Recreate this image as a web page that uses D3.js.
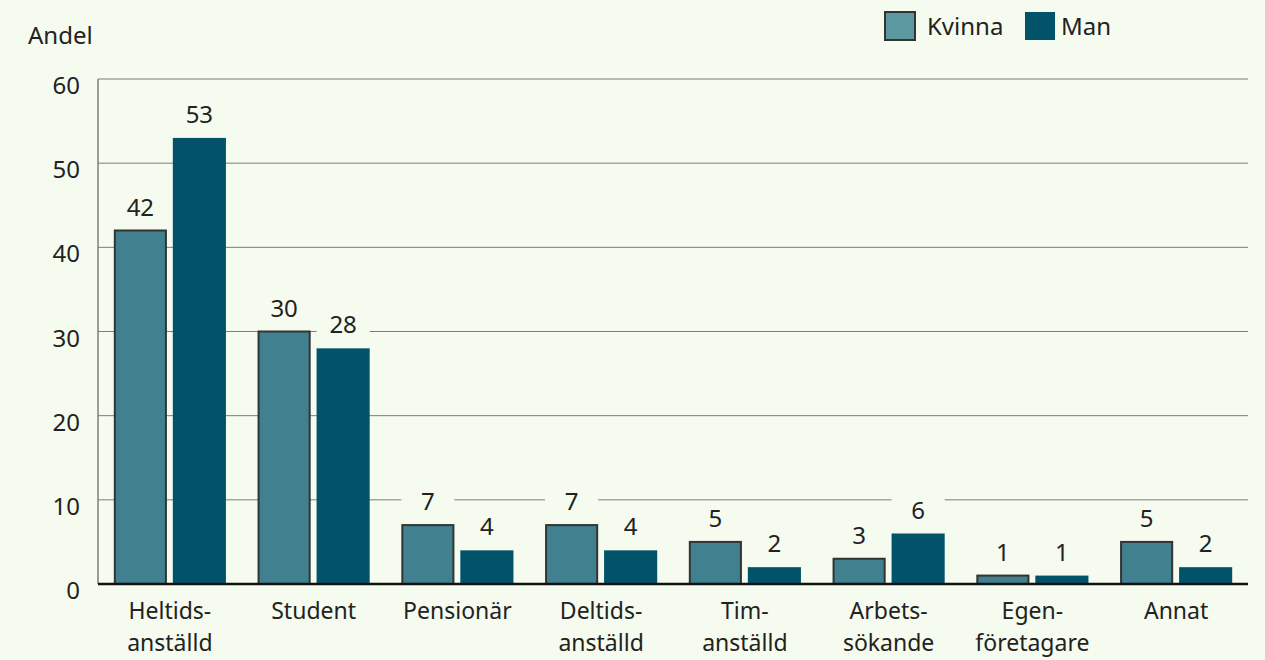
<!DOCTYPE html>
<html><head><meta charset="utf-8">
<script src="https://cdn.jsdelivr.net/npm/d3@7"></script>
<style>body{margin:0;background:#f5fbee;}svg{display:block;font-family:"Noto Sans","Open Sans",sans-serif;}</style>
</head><body><svg id="c" width="1265" height="660"></svg>
<script>
const categories = [["Heltids-","anställd"],["Student"],["Pensionär"],["Deltids-","anställd"],["Tim-","anställd"],["Arbets-","sökande"],["Egen-","företagare"],["Annat"]];
const seriesNames = ["Kvinna","Man"];
const kvinna = [42,30,7,7,5,3,1,5];
const man = [53,28,4,4,2,6,1,2];
const yTicks = [0,10,20,30,40,50,60];
const colors = {Kvinna:"#41808e", Man:"#02536a"};
const FS = 24;

const svg = d3.select("#c");
const m = {l:98, r:1248, t:79, b:584};
const x0 = d3.scaleBand().domain(d3.range(categories.length)).range([m.l,m.r]).paddingInner(0.22).paddingOuter(0.11);
const x1 = d3.scaleBand().domain(seriesNames).range([0,x0.bandwidth()]).paddingInner(0.1);
const y = d3.scaleLinear().domain([0,60]).range([m.b,m.t]);

svg.append("g").selectAll("line").data(yTicks.filter(d=>d>0)).join("line")
  .attr("x1",m.l).attr("x2",m.r).attr("y1",d=>y(d)).attr("y2",d=>y(d))
  .attr("stroke","#7a7f78").attr("stroke-width",1);
svg.append("line").attr("x1",m.l).attr("x2",m.l).attr("y1",m.t).attr("y2",m.b).attr("stroke","#7a7f78").attr("stroke-width",1.5);
svg.append("g").selectAll("text").data(yTicks).join("text")
  .attr("x",80).attr("y",d=>y(d)+15).attr("text-anchor","end")
  .attr("font-size",FS).attr("fill","#222").text(d=>d);
svg.append("text").attr("x",28).attr("y",44).attr("font-size",FS).attr("fill","#222").text("Andel");

const data = categories.map((c,i)=>({i, vals:[{s:"Kvinna",v:kvinna[i]},{s:"Man",v:man[i]}]}));
const g = svg.append("g").selectAll("g").data(data).join("g").attr("transform",d=>`translate(${x0(d.i)},0)`);
g.selectAll("rect.bg").data(d=>d.vals).join("rect").attr("class","bg")
  .attr("x",d=>x1(d.s)).attr("width",x1.bandwidth())
  .attr("y",d=>y(d.v)-38).attr("height",30).attr("fill","#f5fbee");
g.selectAll("rect.bar").data(d=>d.vals).join("rect").attr("class","bar")
  .attr("x",d=>x1(d.s)+(d.s==="Kvinna"?1:0)).attr("width",d=>x1.bandwidth()-(d.s==="Kvinna"?2:0))
  .attr("y",d=>y(d.v)).attr("height",d=>y(0)-y(d.v))
  .attr("fill",d=>colors[d.s])
  .attr("stroke",d=>d.s==="Kvinna"?"#333":"none").attr("stroke-width",2);
g.selectAll("text.val").data(d=>d.vals).join("text").attr("class","val")
  .attr("x",d=>x1(d.s)+x1.bandwidth()/2).attr("y",d=>y(d.v)-15)
  .attr("text-anchor","middle").attr("font-size",FS).attr("fill","#222").text(d=>d.v);
svg.append("line").attr("x1",m.l).attr("x2",m.r).attr("y1",y(0)).attr("y2",y(0)).attr("stroke","#111").attr("stroke-width",2.5);
g.each(function(d){
  categories[d.i].forEach((line,k)=>d3.select(this).append("text").attr("text-anchor","middle")
    .attr("font-size",23).attr("fill","#222")
    .attr("x",x0.bandwidth()/2).attr("y",619+k*32).text(line));
});
const leg = [{s:"Kvinna",x:885,tx:927},{s:"Man",x:1025,tx:1061}];
leg.forEach(l=>{
  svg.append("rect").attr("x",l.x).attr("y",12).attr("width",30).attr("height",28)
    .attr("fill",l.s==="Kvinna"?"#5b98a0":colors.Man).attr("stroke",l.s==="Kvinna"?"#333":"none").attr("stroke-width",2);
  svg.append("text").attr("x",l.tx).attr("y",35).attr("font-size",FS).attr("fill","#222").text(l.s);
});
</script></body></html>
